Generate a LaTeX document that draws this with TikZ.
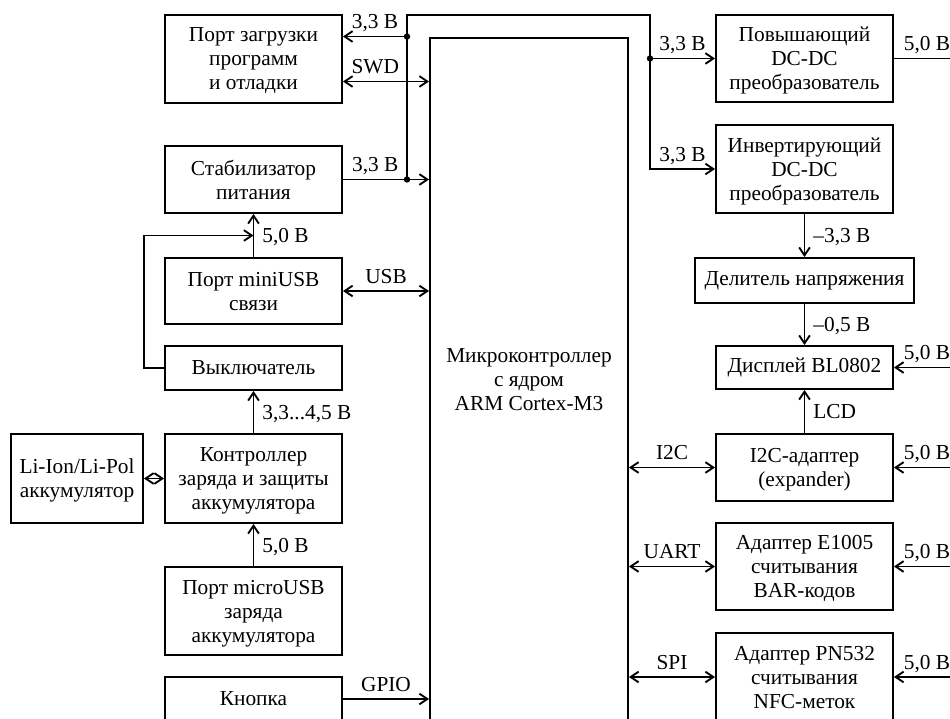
\documentclass[tikz,border=0pt]{standalone}
\usepackage{fontspec}
\setmainfont{Liberation Serif}
\usetikzlibrary{arrows.meta, calc}

\begin{document}
\begin{tikzpicture}[x=0.75pt, y=-0.75pt, line width=1.4pt, >={Straight Barb[length=6pt, width=8pt]},
    font=\fontsize{16pt}{18pt}\selectfont,
    block/.style={draw, align=center, inner sep=2pt, minimum width=132.75pt, minimum height=#1},
    block/.default=66pt,
    lines/.style={text depth=-7pt},
    lbl/.style={inner sep=2pt, text depth=0pt}]
    \useasboundingbox (0,0) rectangle (950,718);
    \clip (0,0) rectangle (950,718);

    % Nodes
    \node[block, lines] (load) at (253.5,59) {Порт загрузки\\программ\\и отладки};
    \node[block=50.25pt, lines] (stab) at (253.5,179.5) {Стабилизатор\\питания};
    \node[block=49.5pt, lines] (miniusb) at (253.5,291) {Порт miniUSB\\связи};
    \node[block=33pt] (switch) at (253.5,368) {Выключатель};
    \node[block=66.75pt, lines] (charger) at (253.5,478.5) {Контроллер\\заряда и защиты\\аккумулятора};
    \node[block=66.75pt, lines, minimum width=99pt] (battery) at (77,478.5) {Li-Ion/Li-Pol\\аккумулятор};
    \node[block, lines] (microusb) at (253.5,611) {Порт microUSB\\заряда\\аккумулятора};
    \node[block=33pt] (button) at (253.5,699) {Кнопка};
    \node[block=513pt, minimum width=148.5pt] (mcu) at (529,380) {Микроконтроллер\\с ядром\\ARM Cortex-M3};
    \node[block=65.25pt, lines] (boost) at (804.5,58.5) {Повышающий\\DC-DC\\преобразователь};
    \node[block, lines] (inv) at (804.5,169) {Инвертирующий\\DC-DC\\преобразователь};
    \node[block=33.75pt, minimum width=164.25pt] (divider) at (804.5,280.5) {Делитель напряжения};
    \node[block=32.25pt] (display) at (804.5,367.5) {Дисплей BL0802};
    \node[block=50.25pt, lines] (i2c) at (804.5,467.5) {I2C-адаптер\\(expander)};
    \node[block=65.25pt, lines] (barcode) at (804.5,566.5) {Адаптер E1005\\считывания\\BAR-кодов};
    \node[block, lines] (nfc) at (804.5,677) {Адаптер PN532\\считывания\\NFC-меток};

    \coordinate (bl) at (407,15);
    \coordinate (br) at (650,15);
    \coordinate (edge) at (960,0);
    \coordinate (pwr) at ($(load.north east)!0.25!(load.south east)$);
    \coordinate (swd) at ($(load.north east)!0.75!(load.south east)$);
    \coordinate (tap) at ($(stab.south)!0.5!(miniusb.north)$);

    % Power
    \draw[->] (stab.east) -- (stab.east -| mcu.west) node[lbl, above=3pt, pos=0.375] {3,3 В};
    \draw[->] (stab.east -| bl) -- (bl) -- (br) |- (inv.west) node[lbl, above=3pt, pos=0.75] {3,3 В};
    \draw[->] (boost.west -| br) -- (boost.west) node[lbl, above=3pt, midway] {3,3 В};
    \draw[->] (pwr -| bl) -- (pwr) node[lbl, above=3pt, midway] {3,3 В};
    \fill (stab.east -| bl) circle (2.4pt) (pwr -| bl) circle (2.4pt) (boost.west -| br) circle (2.4pt);
    \draw[->] (miniusb.north) -- (stab.south) node[lbl, right=4pt, midway] {5,0 В};
    \draw[->] (switch.west) -| (battery.east |- tap) -- (tap);
    \draw[->] (charger.north) -- (switch.south) node[lbl, right=4pt, midway] {3,3...4,5 В};
    \draw[->] (microusb.north) -- (charger.south) node[lbl, right=4pt, midway] {5,0 В};
    \draw[<->] (battery.east) -- (charger.west);
    \draw[->] (inv.south) -- (divider.north) node[lbl, right=4pt, midway] {–3,3 В};
    \draw[->] (divider.south) -- (display.north) node[lbl, right=4pt, midway] {–0,5 В};
    \draw (boost.east) -- (boost.east -| edge) node[lbl, above=3pt, midway] {5,0 В};
    \foreach \n in {display, i2c, barcode, nfc}
        \draw[->] (\n.east -| edge) -- (\n.east) node[lbl, above=3pt, midway] {5,0 В};

    % Signals
    \draw[<->] (swd) -- (swd -| mcu.west) node[lbl, above=3pt, pos=0.375] {SWD};
    \draw[<->] (miniusb.east) -- (miniusb.east -| mcu.west) node[lbl, above=3pt, midway] {USB};
    \draw[->] (button.east) -- (button.east -| mcu.west) node[lbl, above=3pt, midway] {GPIO};
    \draw[->] (i2c.north) -- (display.south) node[lbl, right=4pt, midway] {LCD};
    \foreach \n/\t in {i2c/I2C, barcode/UART, nfc/SPI}
        \draw[<->] (\n.west -| mcu.east) -- (\n.west) node[lbl, above=3pt, midway] {\t};
\end{tikzpicture}
\end{document}
